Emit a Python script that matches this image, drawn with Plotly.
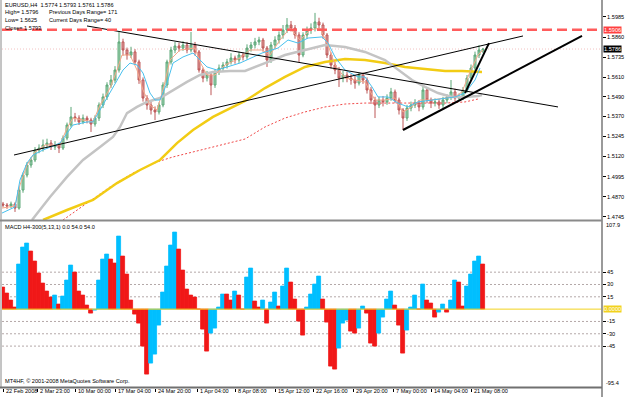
import plotly.graph_objects as go

W, H = 625, 397
def X(px): return px / W
def Y(py): return 1 - py / H

FONT = "Liberation Sans"

# ---------------- data ----------------
bar_idx = list(range(121))

opens = [1.4825,1.4819,1.4813,1.4825,1.4800,1.4912,1.5005,1.5067,1.5098,1.5160,
 1.5172,1.5191,1.5203,1.5179,1.5191,1.5172,1.5234,1.5315,1.5365,1.5358,
 1.5334,1.5358,1.5346,1.5321,1.5358,1.5439,1.5489,1.5563,1.5594,1.5656,
 1.5830,1.5780,1.5749,1.5768,1.5706,1.5594,1.5482,1.5439,1.5408,1.5396,
 1.5439,1.5563,1.5706,1.5780,1.5805,1.5792,1.5811,1.5780,1.5811,1.5768,
 1.5656,1.5606,1.5625,1.5563,1.5644,1.5668,1.5687,1.5706,1.5730,1.5718,
 1.5749,1.5737,1.5792,1.5811,1.5830,1.5842,1.5792,1.5718,1.5811,1.5842,
 1.5873,1.5904,1.5935,1.5916,1.5873,1.5749,1.5873,1.5904,1.5916,1.5954,
 1.5935,1.5873,1.5749,1.5687,1.5656,1.5606,1.5625,1.5606,1.5594,1.5575,
 1.5625,1.5594,1.5532,1.5470,1.5439,1.5470,1.5458,1.5482,1.5520,1.5470,
 1.5408,1.5358,1.5420,1.5439,1.5451,1.5427,1.5532,1.5470,1.5451,1.5458,
 1.5439,1.5470,1.5489,1.5520,1.5482,1.5489,1.5532,1.5606,1.5668,1.5749,
 1.5774]

highs = [1.4838,1.4831,1.4840,1.4836,1.4925,1.5020,1.5085,1.5115,1.5178,1.5195,
 1.5225,1.5230,1.5222,1.5215,1.5205,1.5250,1.5330,1.5427,1.5390,1.5375,
 1.5380,1.5372,1.5360,1.5375,1.5455,1.5510,1.5580,1.5625,1.5680,1.5892,
 1.5850,1.5795,1.5800,1.5785,1.5720,1.5610,1.5500,1.5460,1.5430,1.5455,
 1.5580,1.5720,1.5800,1.5830,1.5825,1.5835,1.5830,1.5892,1.5830,1.5780,
 1.5670,1.5650,1.5640,1.5660,1.5690,1.5705,1.5725,1.5760,1.5745,1.5770,
 1.5765,1.5815,1.5830,1.5855,1.5862,1.5855,1.5805,1.5830,1.5865,1.5895,
 1.5935,1.5978,1.5960,1.5935,1.5890,1.5890,1.5925,1.5945,1.6010,1.5980,
 1.5950,1.5885,1.5765,1.5705,1.5675,1.5650,1.5645,1.5630,1.5620,1.5640,
 1.5640,1.5610,1.5550,1.5490,1.5490,1.5495,1.5505,1.5545,1.5535,1.5485,
 1.5420,1.5440,1.5460,1.5475,1.5470,1.5563,1.5545,1.5485,1.5480,1.5475,
 1.5490,1.5505,1.5594,1.5540,1.5510,1.5550,1.5625,1.5690,1.5770,1.5810,
 1.5793]

lows = [1.4805,1.4795,1.4800,1.4776,1.4790,1.4895,1.4990,1.5050,1.5085,1.5140,
 1.5150,1.5170,1.5160,1.5160,1.5141,1.5160,1.5220,1.5300,1.5335,1.5315,
 1.5320,1.5325,1.5272,1.5305,1.5340,1.5420,1.5470,1.5545,1.5575,1.5640,
 1.5745,1.5720,1.5730,1.5690,1.5570,1.5460,1.5410,1.5380,1.5346,1.5380,
 1.5425,1.5545,1.5690,1.5760,1.5770,1.5775,1.5760,1.5765,1.5745,1.5640,
 1.5580,1.5585,1.5500,1.5545,1.5625,1.5650,1.5665,1.5690,1.5695,1.5700,
 1.5715,1.5720,1.5770,1.5790,1.5810,1.5770,1.5675,1.5700,1.5790,1.5820,
 1.5850,1.5885,1.5895,1.5850,1.5706,1.5735,1.5850,1.5880,1.5895,1.5905,
 1.5850,1.5730,1.5665,1.5630,1.5551,1.5580,1.5580,1.5565,1.5540,1.5560,
 1.5570,1.5510,1.5445,1.5358,1.5420,1.5430,1.5440,1.5465,1.5450,1.5380,
 1.5284,1.5340,1.5400,1.5420,1.5400,1.5410,1.5450,1.5420,1.5430,1.5415,
 1.5420,1.5450,1.5470,1.5460,1.5465,1.5470,1.5515,1.5590,1.5650,1.5730,
 1.5761]

closes = [1.4819,1.4813,1.4825,1.4800,1.4912,1.5005,1.5067,1.5098,1.5160,1.5172,
 1.5191,1.5203,1.5179,1.5191,1.5172,1.5234,1.5315,1.5365,1.5358,1.5334,
 1.5358,1.5346,1.5321,1.5358,1.5439,1.5489,1.5563,1.5594,1.5656,1.5830,
 1.5780,1.5749,1.5768,1.5706,1.5594,1.5482,1.5439,1.5408,1.5396,1.5439,
 1.5563,1.5706,1.5780,1.5805,1.5792,1.5811,1.5780,1.5811,1.5768,1.5656,
 1.5606,1.5625,1.5563,1.5644,1.5668,1.5687,1.5706,1.5730,1.5718,1.5749,
 1.5737,1.5792,1.5811,1.5830,1.5842,1.5792,1.5718,1.5811,1.5842,1.5873,
 1.5904,1.5935,1.5916,1.5873,1.5749,1.5873,1.5904,1.5916,1.5954,1.5935,
 1.5873,1.5749,1.5687,1.5656,1.5606,1.5625,1.5606,1.5594,1.5575,1.5625,
 1.5594,1.5532,1.5470,1.5439,1.5470,1.5458,1.5482,1.5520,1.5470,1.5408,
 1.5358,1.5420,1.5439,1.5451,1.5427,1.5532,1.5470,1.5451,1.5458,1.5439,
 1.5470,1.5489,1.5520,1.5482,1.5489,1.5532,1.5606,1.5668,1.5749,1.5780,
 1.5786]

# moving averages (bar position, price)
ma_fast_x = [-0.25,3,4.25,6,7.5,10,14.25,16,17.5,21,22.5,24.25,26.75,28.5,30,31.75,33.5,35,36.75,38,39.25,41,42.5,45,47.5,49.25,51,53.5,56,59.25,64.75,68.75,71.25,73.75,76.25,79.75,81.25,83,85.5,88.75,90.5,92.25,93.75,96.25,98.75,101.25,103.75,107.25,110.5,113,115.5,118,119.25]
ma_fast_y = [1.4769,1.4807,1.4974,1.5079,1.5129,1.5160,1.5203,1.5265,1.5315,1.5334,1.5334,1.5408,1.5513,1.5594,1.5656,1.5699,1.5687,1.5637,1.5513,1.5470,1.5470,1.5575,1.5699,1.5737,1.5761,1.5718,1.5675,1.5656,1.5675,1.5699,1.5761,1.5792,1.5842,1.5823,1.5854,1.5861,1.5823,1.5737,1.5656,1.5613,1.5613,1.5551,1.5489,1.5489,1.5451,1.5427,1.5458,1.5470,1.5482,1.5489,1.5513,1.5594,1.5668]

ma_salmon_x = [-0.25,3,4.25,6,8,10.5,14.25,16,17.5,20.5,22.5,24.25,26.75,28.5,29.75,31.75,33.5,35,36.75,38.5,40,41.75,44.25,48,49.25,51,53,55.5,59.25,61.75,64.75,66.75,69.25,71.75,74.25,76.75,79.25,81.25,83,85.5,88,90.5,93,95.5,98,100,101.75,104.25,106.75,110.5,113,114.75,116.75,118.75,120]
ma_salmon_y = [1.4800,1.4813,1.4943,1.5067,1.5148,1.5191,1.5191,1.5296,1.5358,1.5346,1.5334,1.5439,1.5544,1.5656,1.5749,1.5749,1.5656,1.5532,1.5439,1.5408,1.5532,1.5718,1.5780,1.5792,1.5706,1.5625,1.5625,1.5687,1.5730,1.5780,1.5780,1.5749,1.5842,1.5916,1.5842,1.5904,1.5916,1.5811,1.5687,1.5606,1.5594,1.5582,1.5470,1.5470,1.5482,1.5396,1.5420,1.5470,1.5470,1.5482,1.5489,1.5520,1.5644,1.5749,1.5780]

ma_grey_x = [7.25,11.75,16,20,24.25,27.5,29.25,31,33.5,36,39.25,42.5,46,49.25,52.5,56.75,60.5,65.5,70.5,75.5,80.5,85.5,90.5,95.5,98.75,102.25,105.5,108.75,112.25,115.5,118.75,119.75]
ma_grey_y = [1.4726,1.4869,1.4993,1.5098,1.5179,1.5241,1.5303,1.5389,1.5427,1.5458,1.5482,1.5532,1.5582,1.5625,1.5644,1.5650,1.5650,1.5699,1.5749,1.5780,1.5811,1.5799,1.5768,1.5718,1.5656,1.5594,1.5551,1.5513,1.5489,1.5489,1.5495,1.5501]

ma_yellow_x = [10,16,22.5,28.5,34.25,39.25,43.5,47.5,52.5,57.5,60.5,65.5,70.5,75.5,80.5,85.5,90.5,95.5,100.5,105.5,110.5,114.75,119.75]
ma_yellow_y = [1.4726,1.4788,1.4850,1.4955,1.5036,1.5098,1.5203,1.5284,1.5365,1.5427,1.5464,1.5544,1.5613,1.5675,1.5706,1.5724,1.5718,1.5699,1.5675,1.5662,1.5650,1.5650,1.5644]

ma_red_x = [15,21,26.75,32.5,38.5,42.5,47.5,52.5,57.5,60.5,65.5,70.5,75.5,80.5,85.5,90.5,100.5,110.5,115.5,118.75]
ma_red_y = [1.4726,1.4831,1.4931,1.5017,1.5086,1.5117,1.5148,1.5179,1.5210,1.5228,1.5303,1.5358,1.5396,1.5427,1.5445,1.5451,1.5451,1.5451,1.5458,1.5476]

# trend lines: (bar1, price1, bar2, price2, width)
trendlines = [
    (21.0, 1.5929, 138.75, 1.5427, 1),
    (2.75, 1.5129, 130.0, 1.5867, 1),
    (100.0, 1.5284, 144.75, 1.5867, 2),
    (115.5, 1.5513, 121.5, 1.5823, 2),
]

level_red = 1.5906
bid_price = 1.5786

macd = [26,19,11,2,54,75,80,70,58,43,
 31,22,14,16,6,15,35,53,45,22,
 17,5,-5,-2,35,60,67,60,55,88,
 64,42,10,-6,-18,-45,-80,-66,-55,-20,
 20,52,78,93,72,47,24,16,14,0,
 -25,-52,-30,-24,2,18,18,10,21,17,
 0,38,50,9,2,10,-18,8,20,3,
 28,50,33,12,-15,-32,2,18,30,40,
 12,-16,-70,-73,-48,-18,-14,-27,-30,-23,
 3,-5,-42,-46,-30,-10,12,21,5,-20,
 -54,-26,2,16,0,30,10,7,-10,-4,
 6,-4,10,35,33,3,27,42,58,64,
 54]
macd_levels = [45, 30, 15, -15, -30, -45]

price_ticks = [1.5985, 1.5860, 1.5735, 1.5610, 1.5490, 1.5370, 1.5245, 1.5120, 1.4995, 1.4870, 1.4745]

x_label_pos = [0, 8.5, 18, 28, 38, 48.5, 58, 68, 77.5, 87.5, 97.5, 107, 117]
x_label_text = ["22 Feb 2008", "2 Mar 23:00", "10 Mar 00:00", "17 Mar 04:00", "24 Mar 20:00",
                "1 Apr 04:00", "8 Apr 08:00", "15 Apr 12:00", "22 Apr 16:00", "29 Apr 20:00",
                "7 May 00:00", "14 May 04:00", "21 May 08:00"]

# ---------------- figure ----------------
fig = go.Figure()

fig.add_trace(go.Candlestick(
    x=bar_idx, open=opens, high=highs, low=lows, close=closes,
    increasing=dict(line=dict(color="#5aa676", width=1), fillcolor="#a8d6b6"),
    decreasing=dict(line=dict(color="#bd5656", width=1), fillcolor="#dfa3a3"),
    whiskerwidth=0, showlegend=False, hoverinfo="skip", xaxis="x", yaxis="y"))

def line(xs, ys, color, width, dash="solid"):
    fig.add_trace(go.Scatter(x=xs, y=ys, mode="lines", line=dict(color=color, width=width, dash=dash),
                             showlegend=False, hoverinfo="skip", xaxis="x", yaxis="y"))

line(ma_red_x, ma_red_y, "#f04848", 1, "2px,2px")
line(ma_yellow_x, ma_yellow_y, "#f2cc14", 2.5)
line(ma_grey_x, ma_grey_y, "#c4c4c4", 2.5)
line(ma_salmon_x, ma_salmon_y, "#f5a88a", 1)
line(ma_fast_x, ma_fast_y, "#48c0ee", 1)

for (x1, p1, x2, p2, w) in trendlines:
    line([x1, x2], [p1, p2], "#000000", w)

colors = []
for i, v in enumerate(macd):
    prev = macd[i - 1] if i > 0 else v + 1
    colors.append("#00bfff" if v > prev else "#f01818")

fig.add_trace(go.Bar(x=bar_idx, y=macd, width=1.0,
                     marker=dict(color=colors, line=dict(width=0.8, color=colors)),
                     showlegend=False, hoverinfo="skip", xaxis="x2", yaxis="y2"))

shapes = []
# horizontal levels on price panel
shapes.append(dict(type="line", xref="paper", yref="y", x0=X(2), x1=X(602), y0=bid_price, y1=bid_price,
                   line=dict(color="#f2c2c2", width=1, dash="1px,2px"), layer="below"))
shapes.append(dict(type="line", xref="paper", yref="y", x0=X(2), x1=X(602), y0=level_red, y1=level_red,
                   line=dict(color="#ff5c5c", width=2.5, dash="10px,5px")))
# MACD levels
for lv in macd_levels:
    shapes.append(dict(type="line", xref="paper", yref="y2", x0=X(2), x1=X(602), y0=lv, y1=lv,
                       line=dict(color="#b4a8a8", width=1, dash="2px,2px"), layer="below"))
shapes.append(dict(type="line", xref="paper", yref="y2", x0=X(2), x1=X(602), y0=0, y1=0,
                   line=dict(color="#f2d21e", width=1)))
# frames
shapes.append(dict(type="line", xref="paper", yref="paper", x0=X(1), x1=X(1), y0=Y(0), y1=Y(388),
                   line=dict(color="#8a8a8a", width=1)))
shapes.append(dict(type="line", xref="paper", yref="paper", x0=X(602), x1=X(602), y0=Y(0), y1=Y(397),
                   line=dict(color="#9a9a9a", width=2)))
shapes.append(dict(type="line", xref="paper", yref="paper", x0=X(0), x1=X(602), y0=Y(220.5), y1=Y(220.5),
                   line=dict(color="#8a8a8a", width=2)))
shapes.append(dict(type="line", xref="paper", yref="paper", x0=X(0), x1=X(602), y0=Y(387.5), y1=Y(387.5),
                   line=dict(color="#707070", width=2)))

ann = []
def text(px, py, s, size=5.6, color="#000", bg=None, xanchor="left"):
    d = dict(xref="paper", yref="paper", x=X(px), y=Y(py), text=s, showarrow=False,
             xanchor=xanchor, yanchor="middle", font=dict(family=FONT, size=size, color=color))
    if bg:
        d.update(bgcolor=bg, borderpad=0)
    ann.append(d)

text(3, 5, "EURUSD,H4  1.5774 1.5793 1.5761 1.5786")
text(3, 12.5, "High= 1.5796")
text(47, 12.5, "Previous Days Range= 171")
text(3, 20, "Low= 1.5625")
text(47, 20, "Current Days Range= 40")
text(3, 27.5, "Close= 1.5793")
text(3, 227, "MACD H4-300(5,13,1) 0.0 54.0 54.0")
text(3, 381, "MT4HF, © 2001-2008 MetaQuotes Software Corp.")
text(603, 30, "1.5906", color="#ffffff", bg="#ff4040")
text(603, 49, "1.5786", color="#ffffff", bg="#000000")
text(603, 309, "0.0000", color="#ffffff", bg="#f2d21e")
text(604, 225, "107.9")
text(604, 383, "-95.4")

for pos, s in zip(x_label_pos, x_label_text):
    ann.append(dict(xref="x2", yref="paper", x=pos, y=Y(391), text=s, showarrow=False,
                    xanchor="left", yanchor="middle", xshift=1,
                    font=dict(family=FONT, size=5.6, color="#000")))

xr = [-0.25, 149.75]
fig.update_layout(
    width=W, height=H, margin=dict(l=0, r=0, t=0, b=0),
    paper_bgcolor="#ffffff", plot_bgcolor="#ffffff",
    showlegend=False, bargap=0,
    xaxis=dict(domain=[X(2), X(602)], range=xr, anchor="y", showticklabels=False, showgrid=False,
               zeroline=False, rangeslider=dict(visible=False), ticks=""),
    xaxis2=dict(domain=[X(2), X(602)], range=xr, anchor="y2", showticklabels=False, showgrid=False,
                zeroline=False, ticks="outside", tickvals=x_label_pos, ticklen=3, tickcolor="#000"),
    yaxis=dict(domain=[Y(220), Y(1)], range=[1.4726, 1.60838], side="right", anchor="x",
               tickvals=price_ticks, ticktext=["%.4f" % v for v in price_ticks],
               ticks="outside", ticklen=3, tickcolor="#000",
               tickfont=dict(family=FONT, size=5.6, color="#000"), showgrid=False, zeroline=False),
    yaxis2=dict(domain=[Y(387.5), Y(220.5)], range=[-95.4, 107.9], side="right", anchor="x2",
                tickvals=macd_levels, ticktext=[str(v) for v in macd_levels],
                ticks="outside", ticklen=3, tickcolor="#000",
                tickfont=dict(family=FONT, size=5.6, color="#000"), showgrid=False, zeroline=False),
    shapes=shapes, annotations=ann,
)

fig.write_html("out.html")
